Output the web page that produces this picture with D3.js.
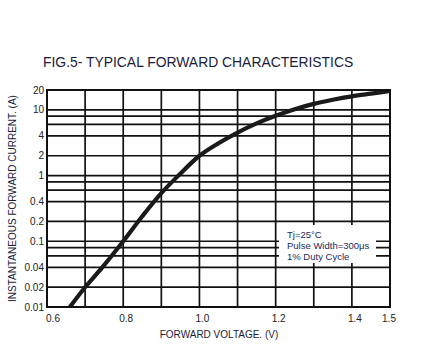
<!DOCTYPE html>
<html>
<head>
<meta charset="utf-8">
<script src="https://cdn.jsdelivr.net/npm/d3@7"></script>
<style>
  body { margin: 0; background: #fff; }
  text { font-family: "Liberation Sans", Arial, sans-serif; }
</style>
</head>
<body>
<script>
const width = 445, height = 364;

// data
const voltage = [0.66, 0.70, 0.745, 0.80, 0.85, 0.90, 0.945, 1.00, 1.05, 1.10, 1.15, 1.20, 1.25, 1.30, 1.35, 1.40, 1.45, 1.50];
const current = [0.01, 0.02, 0.04, 0.10, 0.24, 0.54, 1.0, 2.0, 3.1, 4.5, 6.2, 8.1, 10.2, 12.3, 14.2, 16, 17.6, 19.3];
const xTicks = [0.6, 0.8, 1.0, 1.2, 1.4, 1.5];
const xGrid = [0.6, 0.7, 0.8, 0.9, 1.0, 1.1, 1.2, 1.3, 1.4, 1.5];
const yTicks = [20, 10, 4, 2, 1, 0.4, 0.2, 0.1, 0.04, 0.02, 0.01];
const yGrid = [20, 10, 8, 6, 4, 2, 1, 0.8, 0.6, 0.4, 0.2, 0.1, 0.08, 0.06, 0.04, 0.02, 0.01];
const notes = ['Tj=25°C', 'Pulse Width=300μs', '1% Duty Cycle'];

const plotL = 47, plotR = 390, plotT = 90, plotB = 307;

let svg = d3
  .select('body')
  .append('svg')
  .attr('width', width)
  .attr('height', height);

let x = d3.scaleLinear().domain([0.6, 1.5]).range([plotL, plotR]);
let y = d3.scaleLog().domain([0.01, 20]).range([plotB, plotT]);

// title
svg
  .append('text')
  .attr('x', 43)
  .attr('y', 67)
  .style('font-size', '13.9px')
  .attr('fill', '#1c1c3a')
  .text('FIG.5- TYPICAL FORWARD CHARACTERISTICS');

// grid
svg
  .append('g')
  .selectAll('line')
  .data(yGrid)
  .enter()
  .append('line')
  .attr('x1', plotL)
  .attr('x2', plotR)
  .attr('y1', (d) => y(d))
  .attr('y2', (d) => y(d))
  .attr('stroke', '#111')
  .attr('stroke-width', 1.7);

svg
  .append('g')
  .selectAll('line')
  .data(xGrid)
  .enter()
  .append('line')
  .attr('x1', (d) => x(d))
  .attr('x2', (d) => x(d))
  .attr('y1', plotT)
  .attr('y2', plotB)
  .attr('stroke', '#111')
  .attr('stroke-width', 1.7);

// notes box
svg
  .append('rect')
  .attr('x', 279)
  .attr('y', 225)
  .attr('width', 97)
  .attr('height', 38)
  .attr('fill', '#fff');

svg
  .append('g')
  .selectAll('text')
  .data(notes)
  .enter()
  .append('text')
  .attr('x', 287)
  .attr('y', (d, i) => 238 + i * 11)
  .style('font-size', '9.5px')
  .attr('fill', '#1a2a5a')
  .text((d) => d);

// curve
let line = d3
  .line()
  .x((d, i) => x(voltage[i]))
  .y((d) => y(d))
  .curve(d3.curveCatmullRom);

svg
  .append('path')
  .attr('d', line(current))
  .attr('fill', 'none')
  .attr('stroke', '#1a1a1a')
  .attr('stroke-width', 4.2);

// frame
svg
  .append('rect')
  .attr('x', plotL)
  .attr('y', plotT)
  .attr('width', plotR - plotL)
  .attr('height', plotB - plotT)
  .attr('fill', 'none')
  .attr('stroke', '#111')
  .attr('stroke-width', 2);

// tick labels
svg
  .append('g')
  .selectAll('text')
  .data(yTicks)
  .enter()
  .append('text')
  .attr('x', 44)
  .attr('y', (d) => y(d) + 3.5)
  .attr('text-anchor', 'end')
  .style('font-size', '10px')
  .attr('fill', '#222')
  .text((d) => d);

svg
  .append('g')
  .selectAll('text')
  .data(xTicks)
  .enter()
  .append('text')
  .attr('x', (d) => x(d) + (d == 0.6 ? 6 : d == 1.5 ? -1 : 3))
  .attr('y', 322)
  .attr('text-anchor', 'middle')
  .style('font-size', '10px')
  .attr('fill', '#222')
  .text((d) => d.toFixed(1));

// axis titles
svg
  .append('text')
  .attr('x', 219)
  .attr('y', 338)
  .attr('text-anchor', 'middle')
  .style('font-size', '10px')
  .attr('fill', '#1c1c3a')
  .text('FORWARD VOLTAGE. (V)');

svg
  .append('text')
  .attr('transform', 'translate(16,' + (plotT + plotB) / 2 + ') rotate(-90)')
  .attr('text-anchor', 'middle')
  .style('font-size', '10px')
  .attr('fill', '#1c1c3a')
  .text('INSTANTANEOUS FORWARD CURRENT. (A)');
</script>
</body>
</html>
